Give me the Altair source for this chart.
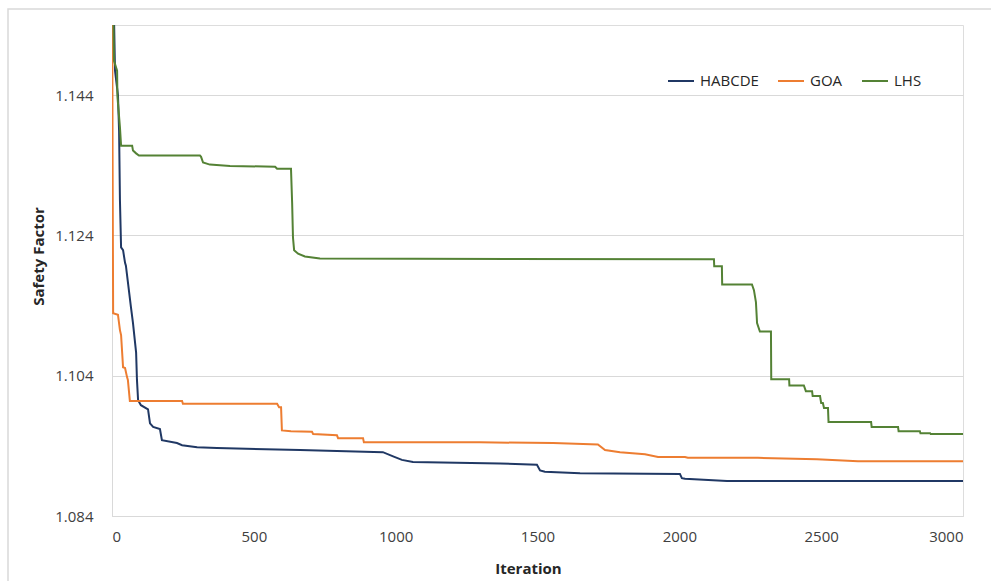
import altair as alt
import pandas as pd

# ---- data ----
series_names = ["HABCDE", "GOA", "LHS"]
series_colors = ["#203864", "#ED7D31", "#548235"]

habcde_iter = [0, 10.6, 21, 25, 28, 32, 39, 46, 49, 67, 74, 85, 88, 92, 102, 127, 134, 145, 169,
               176, 229, 247, 300, 370, 663, 955, 991, 1022, 1061, 1368, 1498, 1509, 1526, 1650,
               2002, 2009, 2020, 2168, 3000]
habcde_val = [1.170, 1.1475, 1.1440, 1.1389, 1.1290, 1.1223, 1.1219, 1.1201, 1.1197, 1.1137, 1.1115,
              1.1073, 1.1034, 1.1005, 1.0998, 1.0992, 1.0972, 1.0967, 1.0964, 1.0948, 1.0944, 1.0941,
              1.0938, 1.0937, 1.0934, 1.0931, 1.0925, 1.0920, 1.0917, 1.0915, 1.0913, 1.0905, 1.0903,
              1.0901, 1.0900, 1.0894, 1.0893, 1.0890, 1.0890]

goa_iter = [0, 2, 4, 21, 28, 32, 39, 46, 53, 56, 63, 247, 250, 582, 589, 596, 599, 631, 705, 709,
            793, 797, 885, 888, 1297, 1555, 1713, 1738, 1791, 1879, 1925, 2020, 2030, 2277, 2485,
            2630, 3000]
goa_val = [1.170, 1.1360, 1.1129, 1.1127, 1.1105, 1.1098, 1.1052, 1.1051, 1.1038, 1.1034, 1.1004,
           1.1004, 1.1000, 1.1000, 1.0995, 1.0995, 1.0962, 1.0961, 1.0960, 1.0957, 1.0955, 1.0951,
           1.0951, 1.0945, 1.0945, 1.0944, 1.0942, 1.0934, 1.0931, 1.0928, 1.0924, 1.0924, 1.0923,
           1.0923, 1.0921, 1.0918, 1.0918]

lhs_iter = [0, 7, 18, 19, 28, 32, 71, 74, 85, 95, 310, 314, 321, 345, 416, 575, 582, 631, 635, 638,
            642, 656, 680, 733, 2122, 2123, 2150, 2151, 2256, 2263, 2270, 2274, 2284, 2323, 2324,
            2387, 2388, 2439, 2446, 2468, 2470, 2496, 2500, 2506, 2510, 2524, 2526, 2676, 2678,
            2771, 2773, 2848, 2850, 2884, 2886, 3000]
lhs_val = [1.170, 1.1489, 1.1475, 1.1439, 1.1394, 1.1368, 1.1368, 1.1361, 1.1357, 1.1354, 1.1354,
           1.1352, 1.1344, 1.1341, 1.1339, 1.1338, 1.1335, 1.1335, 1.1287, 1.1237, 1.1219, 1.1214,
           1.1210, 1.1207, 1.1206, 1.1196, 1.1196, 1.1170, 1.1170, 1.1162, 1.1145, 1.1115, 1.1103,
           1.1103, 1.1035, 1.1035, 1.1026, 1.1026, 1.1018, 1.1018, 1.1011, 1.1011, 1.1001, 1.1001,
           1.0994, 1.0994, 1.0974, 1.0974, 1.0967, 1.0967, 1.0961, 1.0961, 1.0958, 1.0958, 1.0957,
           1.0957]

x_ticks = [0, 500, 1000, 1500, 2000, 2500, 3000]
y_ticks = [1.084, 1.104, 1.124, 1.144]

rows = []
for name, xs, ys in [("HABCDE", habcde_iter, habcde_val),
                     ("GOA", goa_iter, goa_val),
                     ("LHS", lhs_iter, lhs_val)]:
    for i, (a, b) in enumerate(zip(xs, ys)):
        rows.append({"Iteration": a, "Safety Factor": b, "Series": name, "order": i})
df = pd.DataFrame(rows)

FONT = "Open Sans"
GRID = "#D9D9D9"

lines = alt.Chart(df).mark_line(clip=True, strokeWidth=2).encode(
    x=alt.X("Iteration:Q",
            scale=alt.Scale(domain=[0, 3000], nice=False, zero=False),
            axis=alt.Axis(values=x_ticks, format="d", title="Iteration", grid=False, ticks=False,
                          domainColor=GRID, labelPadding=13, labelFontSize=15,
                          labelColor="#404040", titleFontSize=15, titleFontWeight="bold",
                          titleColor="#262626", titleX=416, titleY=52, titleBaseline="middle")),
    y=alt.Y("Safety Factor:Q",
            scale=alt.Scale(domain=[1.084, 1.154], nice=False, zero=False),
            axis=alt.Axis(values=y_ticks, format=".3f", title="Safety Factor", grid=True,
                          gridColor=GRID, ticks=False, domainColor=GRID, labelPadding=19,
                          labelFontSize=15, labelColor="#404040", titleFontSize=15,
                          titleFontWeight="bold", titleColor="#262626", titleX=-74, titleY=231,
                          titleAngle=-90, titleBaseline="middle", titleAlign="center")),
    color=alt.Color("Series:N",
                    scale=alt.Scale(domain=series_names, range=series_colors),
                    sort=series_names,
                    legend=alt.Legend(title=None, orient="none", direction="horizontal",
                                      legendX=555, legendY=42, symbolType="stroke",
                                      symbolSize=676, symbolStrokeWidth=2, labelFontSize=15,
                                      labelColor="#262626", labelOffset=5, columnPadding=15,
                                      padding=0)),
    order="order:Q",
)

border = alt.Chart(alt.Data(values=[{}])).mark_rect(
    filled=False, stroke="#D9D9D9", strokeWidth=1.5
).encode(x=alt.value(-104), x2=alt.value(900), y=alt.value(-16), y2=alt.value(600))

chart = alt.layer(border, lines).properties(
    width=851, height=491,
    autosize=alt.AutoSizeParams(type="none"),
    padding={"left": 112, "top": 25, "right": 28, "bottom": 65},
    background="white",
).configure_view(stroke=None).configure(font=FONT)

chart.save("out.html", embed_options={"renderer": "svg", "actions": False})
